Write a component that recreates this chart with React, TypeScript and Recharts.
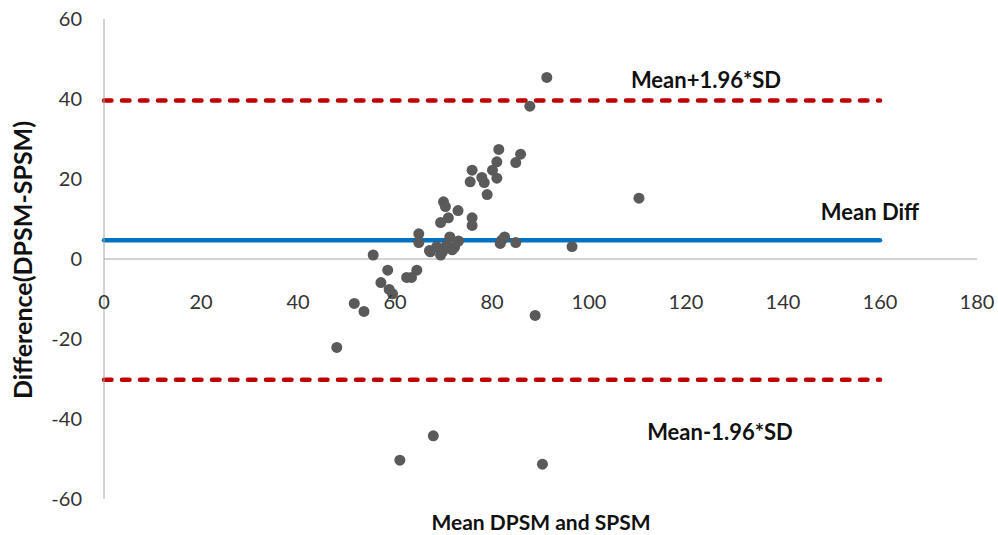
import { ScatterChart, Scatter, XAxis, YAxis, ReferenceLine } from "recharts"

// Bland-Altman: mean of the two methods vs their difference
const meanValues = [
  91.3, 87.8, 81.4, 81.0, 80.1, 81.0, 85.9, 84.9, 75.9, 75.5,
  77.9, 78.4, 79.0, 70.0, 70.4, 73.0, 71.0, 69.4, 75.9, 75.9,
  64.9, 64.9, 67.1, 68.6, 69.4, 71.3, 71.8, 73.1, 70.6, 82.0,
  82.6, 81.7, 84.9, 96.5, 55.5, 58.5, 64.5, 62.4, 63.4, 57.1,
  58.8, 59.5, 51.6, 53.6, 48.0, 88.9, 67.9, 61.0, 90.4, 110.3,
  72.3, 69.8, 67.3,
]
const diffValues = [
  45.4, 38.2, 27.4, 24.3, 22.2, 20.2, 26.2, 24.1, 22.2, 19.3,
  20.4, 19.1, 16.1, 14.3, 13.1, 12.1, 10.3, 9.1, 10.3, 8.4,
  6.3, 4.1, 2.1, 3.1, 1.0, 5.5, 2.3, 4.5, 3.4, 4.7,
  5.5, 3.9, 4.1, 3.1, 1.0, -2.8, -2.8, -4.6, -4.6, -5.9,
  -7.6, -8.7, -11.1, -13.1, -22.1, -14.1, -44.2, -50.3, -51.3, 15.2,
  3.0, 1.8, 1.8,
]

const xTicks = [0, 20, 40, 60, 80, 100, 120, 140, 160, 180]
const yTicks = [-60, -40, -20, 0, 20, 40, 60]

const meanDiff = 4.7
const upperLimit = 39.6
const lowerLimit = -30.2
const lineEnd = 160

const points = meanValues.map((x, i) => ({ x, y: diffValues[i] }))

const W = 998
const H = 535
const xAxisHeight = 1
const margin = { top: 19, right: 21, bottom: 36 - xAxisHeight, left: 44 }
const yAxisWidth = 60
const plotTop = margin.top
const plotH = H - margin.top - margin.bottom - xAxisHeight
const yMin = -60
const yMax = 60
// the x axis crosses at y = 0, so its tick labels sit under that line
const zeroY = plotTop + (plotH * (yMax - 0)) / (yMax - yMin)

const FONT = "Lato, 'Open Sans', sans-serif"

const renderXTick = ({ x, payload }: any) => (
  <text x={x} y={zeroY + 50} textAnchor="middle" fontSize={20} fill="#333" fontFamily={FONT}>
    {payload.value}
  </text>
)

const lineLabel = (text: string, dx: number, dy: number) => (props: any) => {
  const vb = props.viewBox || {}
  return (
    <text
      x={vb.x + dx}
      y={vb.y + dy}
      textAnchor="middle"
      fontSize={22}
      fontWeight={700}
      fill="#111"
      fontFamily={FONT}
    >
      {text}
    </text>
  )
}

const Dot = (props: any) => <circle cx={props.cx} cy={props.cy} r={5.5} fill="#5a5a5a" />

export default function App() {
  return (
    <div style={{ position: "absolute", left: 0, top: 0, width: W, height: H, background: "#fff" }}>
      <ScatterChart width={W} height={H} margin={margin}>
        <XAxis
          type="number"
          dataKey="x"
          domain={[0, 180]}
          ticks={xTicks}
          height={xAxisHeight}
          axisLine={false}
          tickLine={false}
          tick={renderXTick}
          interval={0}
        />
        <YAxis
          type="number"
          dataKey="y"
          domain={[yMin, yMax]}
          ticks={yTicks}
          width={yAxisWidth}
          axisLine={{ stroke: "#a6a6a6", strokeWidth: 1 }}
          tickLine={false}
          tickSize={0}
          tickMargin={22}
          interval={0}
          tick={{ fontSize: 20, fill: "#333", fontFamily: FONT }}
          label={{
            content: () => (
              <text
                x={22}
                y={260}
                transform="rotate(-90 22 260)"
                textAnchor="middle"
                dominantBaseline="central"
                fontSize={25}
                fontWeight={700}
                fill="#111"
                fontFamily={FONT}
              >
                Difference(DPSM-SPSM)
              </text>
            ),
          }}
        />
        <ReferenceLine y={0} stroke="#a6a6a6" strokeWidth={1} />
        <ReferenceLine
          segment={[{ x: 0, y: upperLimit }, { x: lineEnd, y: upperLimit }]}
          stroke="#c00000"
          strokeWidth={4.5}
          strokeDasharray="7.5 10.5"
          strokeLinecap="round"
          label={lineLabel("Mean+1.96*SD", 602, -13)}
        />
        <ReferenceLine
          segment={[{ x: 0, y: lowerLimit }, { x: lineEnd, y: lowerLimit }]}
          stroke="#c00000"
          strokeWidth={4.5}
          strokeDasharray="7.5 10.5"
          strokeLinecap="round"
          label={lineLabel("Mean-1.96*SD", 616, 60)}
        />
        <ReferenceLine
          segment={[{ x: 0, y: meanDiff }, { x: lineEnd, y: meanDiff }]}
          stroke="#0070c0"
          strokeWidth={4.5}
          strokeLinecap="round"
          label={lineLabel("Mean Diff", 766, -20)}
        />
        <Scatter data={points} shape={<Dot />} isAnimationActive={false} zIndex={1000} />
        <text
          x={541}
          y={530}
          textAnchor="middle"
          fontSize={21}
          fontWeight={700}
          fill="#111"
          fontFamily={FONT}
        >
          Mean DPSM and SPSM
        </text>
      </ScatterChart>
    </div>
  )
}
